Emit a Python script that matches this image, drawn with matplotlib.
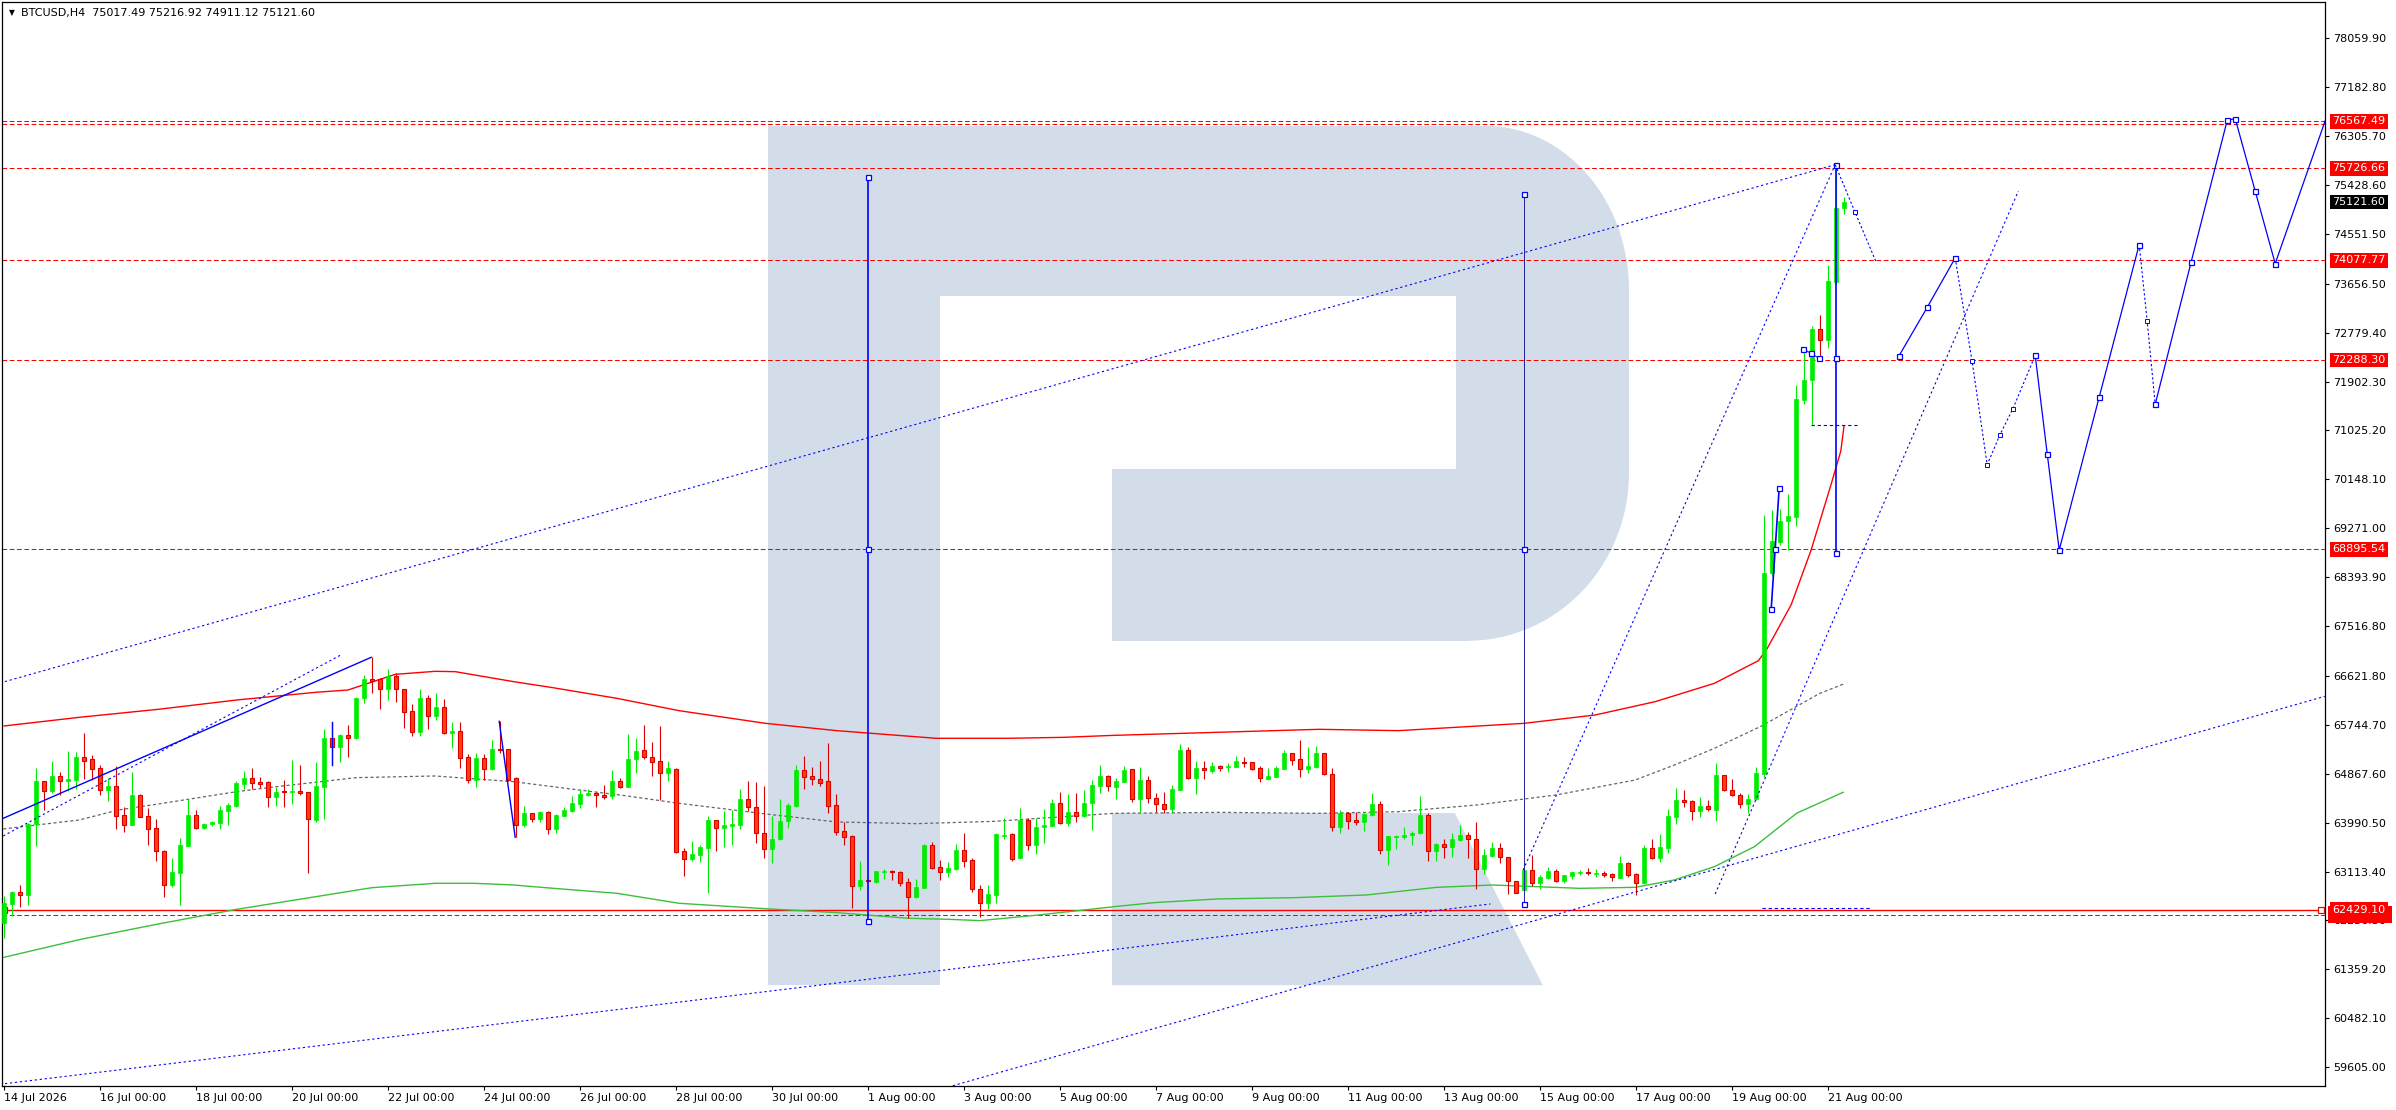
import numpy as np
import matplotlib
matplotlib.use("Agg")
import matplotlib.pyplot as plt
import matplotlib.transforms as mtransforms
from matplotlib.patches import Polygon, Rectangle

# ---- candles (BTCUSD H4, bar 0 = 14 Jul 00:00) ----
opens = [
    62198, 62533, 62742, 62694, 63967, 64732, 64565, 64828, 64744, 64762,
    65163, 65133, 64971, 64577, 64649, 64129, 63955, 64487, 64111, 63890,
    63483, 62879, 63094, 63579, 64123, 63901, 63961, 63991, 64206, 64296,
    64690, 64792, 64720, 64714, 64445, 64541, 64535, 64553, 64535, 64039,
    64637, 65510, 65354, 65563, 65516, 66221, 66562, 66562, 66394, 66621,
    66382, 65994, 65623, 66221, 65904, 66059, 65605, 65629, 65163, 64750,
    65151, 64960, 65306, 65306, 64792, 63949, 64158, 64063, 64182, 63872,
    64117, 64200, 64332, 64493, 64529, 64487, 64463, 64732, 64637, 65127,
    65288, 65163, 65091, 64888, 64954, 63477, 63339, 63417, 63543, 64033,
    63901, 63937, 63955, 64410, 64266, 63800, 63513, 63692, 64015, 64296,
    64936, 64822, 64768, 64732, 64302, 63836, 63746, 62861, 62963, 62933,
    63112, 63124, 63100, 62921, 62652, 62825, 63585, 63190, 63112, 63160,
    63501, 63322, 62795, 62545, 62700, 63758, 63782, 63363, 64039, 63585,
    63907, 63937, 64338, 63979, 64176, 64117, 64338, 64655, 64828, 64637,
    64726, 64948, 64422, 64756, 64428, 64326, 64242, 64577, 65294, 64798,
    64977, 64924, 65007, 64983, 64995, 65079, 65073, 64966, 64780, 64816,
    64960, 65235, 65127, 64960, 64989, 65235, 64858, 63907, 64158, 64039,
    64009, 64129, 64320, 63507, 63740, 63740, 63764, 63800, 64135, 63489,
    63609, 63549, 63680, 63764, 63698, 63154, 63393, 63531, 63375, 62939,
    62784, 63142, 62903, 63005, 63124, 62939, 63041, 63094, 63106, 63076,
    63094, 63071, 63005, 63262, 63071, 62915, 63537, 63357, 63537, 64099,
    64398, 64374, 64206, 64290, 64218, 64846, 64577, 64493, 64320, 64410,
    64870, 68471, 69022, 69396, 69475, 71580, 71934, 72839, 72652, 73695,
    75017]
highs = [
    62676, 62772, 62867, 63991, 64971, 64744, 65103, 64906, 65276, 65258,
    65599, 65199, 65019, 64786, 65007, 64278, 64900, 64505, 64260, 64063,
    63501, 63357, 63710, 64410, 64218, 63991, 64021, 64290, 64338, 64744,
    64912, 64971, 64816, 64732, 64637, 64750, 65115, 65019, 64547, 65079,
    65665, 65797, 65575, 65743, 66251, 66639, 66956, 66580, 66753, 66669,
    66394, 66119, 66382, 66281, 66323, 66203, 65803, 65803, 65223, 65235,
    65223, 65474, 65808, 65318, 64816, 64290, 64170, 64194, 64194, 64147,
    64278, 64469, 64589, 64589, 64547, 64667, 64936, 64792, 65581, 65504,
    65743, 65438, 65725, 65091, 64966, 63537, 63656, 63597, 64111, 64039,
    64200, 64218, 64595, 64738, 64720, 64655, 64111, 64416, 64338, 65025,
    65187, 64989, 65097, 65420, 64505, 64009, 63764, 63304, 62969, 63130,
    63154, 63142, 63130, 62999, 62981, 63609, 63644, 63322, 63286, 63609,
    63812, 63352, 62873, 62867, 63800, 64069, 63800, 64260, 64069, 64069,
    64236, 64421, 64541, 64505, 64529, 64577, 64756, 65025, 64840, 64786,
    65007, 64960, 64995, 64828, 64529, 64541, 64673, 65402, 65342, 65103,
    65103, 65079, 65025, 65055, 65187, 65163, 65079, 65007, 64977, 65007,
    65294, 65247, 65474, 65342, 65366, 65247, 64971, 64218, 64176, 64176,
    64158, 64529, 64374, 63758, 63776, 63907, 63848, 64475, 64158, 63620,
    63692, 63800, 63949, 63824, 64003, 63519, 63650, 63632, 63381, 62951,
    63154, 63411, 63047, 63190, 63154, 63059, 63130, 63142, 63178, 63154,
    63118, 63082, 63393, 63286, 63094, 63597, 63704, 63788, 64230, 64613,
    64577, 64398, 64445, 64398, 65055, 64846, 64768, 64517, 64505, 64995,
    69504, 69593, 69622, 69888, 71836, 72475, 72898, 73094, 73999, 75727,
    75217]
lows = [
    61917, 62317, 62485, 62515, 63579, 64218, 64517, 64487, 64565, 64601,
    64774, 64756, 64487, 64386, 63878, 63830, 63949, 64087, 63591, 63304,
    62664, 62831, 62515, 63579, 63878, 63884, 63931, 63884, 63949, 64278,
    64589, 64589, 64607, 64278, 64290, 64278, 64326, 64487, 63094, 64009,
    64057, 65031, 65079, 65175, 65486, 66131, 66311, 66036, 66191, 66155,
    65689, 65551, 65551, 65677, 65832, 65575, 65336, 64978, 64696, 64637,
    64756, 64936, 65247, 64744, 63728, 63907, 64009, 64003, 63788, 63812,
    64111, 64182, 64260, 64469, 64278, 64410, 64410, 64619, 64637, 64888,
    65127, 64828, 64398, 64744, 63453, 63035, 63298, 63286, 62736, 63483,
    63561, 63591, 63878, 64200, 63620, 63363, 63262, 63680, 63901, 64278,
    64601, 64661, 64649, 64170, 63776, 63597, 62467, 62784, 62927, 62915,
    62975, 62963, 62855, 62287, 62634, 62813, 63154, 62963, 63011, 63136,
    63202, 62748, 62293, 62449, 62545, 63698, 63310, 63363, 63501, 63435,
    63620, 63931, 63967, 63937, 63997, 64099, 63860, 64529, 64565, 64416,
    64720, 64368, 64158, 64350, 64176, 64158, 64158, 64577, 64780, 64511,
    64780, 64888, 64924, 64900, 64983, 64995, 64936, 64726, 64756, 64804,
    64948, 65025, 64816, 64888, 64978, 64840, 63836, 63800, 63884, 63949,
    63848, 64117, 63429, 63238, 63519, 63692, 63597, 63788, 63310, 63310,
    63363, 63381, 63668, 63352, 62796, 63065, 63381, 63274, 62706, 62724,
    62736, 62855, 62807, 62987, 62927, 62915, 62987, 63047, 63047, 63011,
    63023, 62951, 62993, 63023, 62700, 62891, 63334, 63292, 63441, 63967,
    64278, 64039, 64087, 64206, 64027, 64565, 64469, 64254, 64158, 64398,
    64802, 68412, 68963, 68884, 69317, 71491, 71127, 72367, 72505, 73656,
    74911]
closes = [
    62545, 62748, 62700, 63967, 64732, 64565, 64828, 64744, 64774, 65163,
    65103, 64960, 64577, 64649, 64117, 63955, 64487, 64099, 63884, 63489,
    62879, 63106, 63585, 64123, 63901, 63967, 64003, 64218, 64308, 64696,
    64792, 64708, 64690, 64445, 64541, 64535, 64553, 64529, 64051, 64649,
    65510, 65354, 65563, 65516, 66221, 66562, 66538, 66394, 66621, 66382,
    65982, 65623, 66221, 65904, 66059, 65605, 65635, 65157, 64750, 65151,
    64960, 65306, 65294, 64756, 63955, 64158, 64063, 64182, 63872, 64123,
    64212, 64338, 64505, 64517, 64481, 64457, 64732, 64637, 65133, 65276,
    65163, 65085, 64888, 64971, 63465, 63345, 63423, 63555, 64033, 63901,
    63943, 63961, 64410, 64266, 63800, 63513, 63692, 64021, 64302, 64936,
    64816, 64768, 64708, 64296, 63830, 63740, 62861, 62963, 62939, 63118,
    63124, 63100, 62915, 62652, 62831, 63585, 63178, 63112, 63178, 63501,
    63310, 62795, 62545, 62706, 63788, 63770, 63345, 64039, 63585, 63907,
    63949, 64338, 63979, 64176, 64117, 64338, 64667, 64828, 64649, 64738,
    64936, 64422, 64756, 64440, 64320, 64242, 64589, 65294, 64798, 64971,
    64936, 65007, 64971, 65007, 65097, 65067, 64960, 64786, 64828, 64971,
    65235, 65115, 64960, 65007, 65235, 64864, 63907, 64158, 64027, 64009,
    64147, 64332, 63507, 63746, 63752, 63764, 63812, 64135, 63489, 63609,
    63549, 63698, 63776, 63692, 63154, 63405, 63531, 63369, 62939, 62736,
    63142, 62903, 63011, 63118, 62939, 63047, 63106, 63106, 63082, 63088,
    63059, 63011, 63262, 63047, 62915, 63537, 63357, 63549, 64111, 64398,
    64362, 64206, 64290, 64230, 64846, 64571, 64481, 64320, 64422, 64876,
    68471, 69042, 69406, 69494, 71590, 71934, 72839, 72652, 73705, 75017,
    75122]

# ---- moving averages (bar index, price) ----
red_ma_x = [0, 9.4, 19.3, 29.1, 39, 43, 48.9, 53.9, 56.4, 63.7, 68.6, 76.6, 84.4,
            95.2, 104.1, 116.5, 125.4, 132.4, 138.8, 151.6, 164.4, 174.3, 190,
            198.9, 206.4, 213.8, 219.3, 220.4, 223.4, 225.9, 228.4, 229.6, 230]
red_ma_y = [65725, 65880, 66024, 66191, 66329, 66370, 66651, 66705, 66699, 66520,
            66412, 66221, 65999, 65772, 65641, 65504, 65504, 65521, 65557, 65611,
            65665, 65641, 65772, 65922, 66161, 66490, 66896, 67114, 67901, 68884,
            70065, 70655, 71098]
green_ma_x = [-0.5, 9.6, 19.3, 29.1, 39, 46, 53.9, 58.8, 63.7, 68.7, 76.6, 84.4, 94.3,
              104.1, 113, 118, 122, 128.9, 135.8, 138.8, 143.8, 151.6, 161.4, 170.3,
              179.1, 186.1, 197, 203.9, 208.8, 213.8, 218.8, 224.1, 229.9]
green_ma_y = [61560, 61899, 62174, 62437, 62664, 62825, 62903, 62903, 62873, 62813,
              62724, 62545, 62455, 62377, 62276, 62258, 62234, 62329, 62437, 62485,
              62557, 62622, 62646, 62694, 62831, 62873, 62813, 62831, 62963, 63202,
              63560, 64162, 64536]
grey_ma_x = [-0.1, 9.4, 14.3, 19.3, 29.1, 34.1, 44, 53.9, 63.7, 71.2, 77, 84.4, 95.2,
             104.1, 114, 123.9, 133.8, 138.8, 152, 164.4, 174.3, 184.1, 194, 203.9,
             208.8, 213.8, 219.7, 227, 229.9]
grey_ma_y = [63878, 64039, 64218, 64326, 64547, 64637, 64798, 64828, 64726, 64589,
             64487, 64338, 64147, 64003, 63973, 64015, 64111, 64158, 64176, 64158,
             64188, 64308, 64487, 64756, 65025, 65324, 65725, 66311, 66474]

# ---- horizontal levels ----
dash_levels = [76567.49, 76516.0, 75726.66, 74077.77, 72288.30, 68895.54, 62339.17]
solid_level = 62429.10
box_levels = [76567.49, 75726.66, 74077.77, 72288.30, 68895.54, 62429.10]
box_texts = ["76567.49", "75726.66", "74077.77", "72288.30", "68895.54", "62429.10"]
hidden_box_level = 62339.17   # label hidden under the 62429.10 one
last_price = 75121.60

# ---- trend lines ((x0, x1), (y0, y1)) ----
dotted_lines = [((-0.5, 228.9), (66496, 75791)),
                ((-0.5, 185.8), (59299, 62533)),
                ((118.6, 290.1), (59273, 66256)),
                ((189.9, 228.9), (63142, 75791)),
                ((213.9, 251.8), (62712, 75320)),
                ((-0.1, 42.1), (63752, 66998))]
solid_lines = [((-0.1, 45.9), (64069, 66956)),
               ((61.9, 63.9), (65808, 63728)),
               ((41, 41), (65797, 65031))]

# vertical measuring lines: bar, (top, mid, bottom)
vlines_x = [108, 190, 229]
vlines_y = [(75572, 68901, 62229), (75273, 68901, 62527), (75791, 72328, 68835)]

# small marks in the rally
rally_a_x = [220.9, 221.4, 221.9]
rally_a_y = [67823, 68904, 69997]
rally_b_x = [224.9, 225.9, 226.9]
rally_b_y = [72485, 72406, 72317]
rally_dash_x = [225.9, 231.6]
rally_dash_y = 71128
base_dash_x = [219.7, 233.3]
base_dash_y = 62461

# ---- forecast path ----
fc_segments = [
    ("dot", [228.9, 231.4, 234.0], [75791, 74934, 74050]),
    ("solid", [236.9, 240.4, 243.9], [72368, 73232, 74118]),
    ("dot", [243.9, 246.0, 247.9, 249.5, 251.1, 253.9], [74118, 72278, 70409, 70951, 71410, 72371]),
    ("solid", [253.9, 255.4, 256.9, 261.9, 266.9], [72371, 70610, 68881, 71623, 74358]),
    ("dot", [266.9, 267.9, 268.9], [74358, 72981, 71494]),
    ("solid", [268.9, 273.4, 277.9, 278.9, 281.4, 283.9, 290.2],
     [71494, 74050, 76586, 76618, 75318, 74018, 76600]),
]

price_ticks = [78059.90, 77182.80, 76305.70, 75428.60, 74551.50, 73656.50, 72779.40,
               71902.30, 71025.20, 70148.10, 69271.00, 68393.90, 67516.80, 66621.80,
               65744.70, 64867.60, 63990.50, 63113.40, 62236.30, 61359.20, 60482.10,
               59605.00]
date_labels = ["14 Jul 2026", "16 Jul 00:00", "18 Jul 00:00", "20 Jul 00:00", "22 Jul 00:00",
               "24 Jul 00:00", "26 Jul 00:00", "28 Jul 00:00", "30 Jul 00:00", "1 Aug 00:00",
               "3 Aug 00:00", "5 Aug 00:00", "7 Aug 00:00", "9 Aug 00:00", "11 Aug 00:00",
               "13 Aug 00:00", "15 Aug 00:00", "17 Aug 00:00", "19 Aug 00:00", "21 Aug 00:00"]
header = "BTCUSD,H4  75017.49 75216.92 74911.12 75121.60"

BLUE = "#0000ff"
RED = "#ff0000"
BULL = "#00ec00"
BEAR = "#ff3d0a"
BEAR_EDGE = "#d80000"

W, H = 2396, 1110
fig = plt.figure(figsize=(W / 100, H / 100), dpi=100)
ax = fig.add_axes([2 / W, 24 / H, 2323 / W, 1084 / H])
ax.set_xlim(-0.25, 290.125)
ax.set_ylim(59268, 78709)

# watermark logo, in figure pixels
pix = mtransforms.Affine2D().scale(1 / W, -1 / H).translate(0, 1) + fig.transFigure
wm = "#d3dde9"
t1 = np.linspace(np.pi / 2, 0, 30)
t2 = np.linspace(0, -np.pi / 2, 30)
bowl = ([(1456, 125.8)] + list(zip(1485 + 144 * np.cos(t1), 290 - 164.2 * np.sin(t1)))
        + list(zip(1467.7 + 161.3 * np.cos(t2), 473 - 167.8 * np.sin(t2))) + [(1456, 640.8)])
pieces = [
    [(767.6, 125.8), (939.5, 125.8), (939.5, 985.2), (767.6, 985.2)],
    [(939.5, 125.8), (1486, 125.8), (1486, 296.3), (939.5, 296.3)],
    bowl,
    [(1112, 468.5), (1468, 468.5), (1468, 640.8), (1112, 640.8)],
    [(1112, 813), (1454.8, 813), (1542.8, 985.2), (1112, 985.2)],
]
for pts in pieces:
    ax.add_patch(Polygon(pts, closed=True, fc=wm, ec="none", transform=pix, zorder=0.5))

# horizontal levels
for lv in dash_levels:
    ax.axhline(lv, color=RED, lw=0.75, ls=(0, (4.5, 2.5)), zorder=2)
ax.axhline(solid_level, color=RED, lw=1.0, zorder=2)
ax.plot([0, 289.6], [solid_level, solid_level], ls="none", marker="s", ms=4,
        mfc="white", mec=RED, mew=0.9, zorder=2)

# moving averages
ax.plot(red_ma_x, red_ma_y, color=RED, lw=1.0, zorder=2)
ax.plot(green_ma_x, green_ma_y, color="#3cbf3c", lw=1.0, zorder=2)
ax.plot(grey_ma_x, grey_ma_y, color="#666666", lw=0.9, ls=(0, (2.5, 2)), zorder=2)

# candles
o, h, l, c = (np.array(a, dtype=float) for a in (opens, highs, lows, closes))
idx = np.arange(len(o))
up = c >= o
ax.vlines(idx[up], l[up], h[up], color=BULL, lw=0.8, zorder=3)
ax.vlines(idx[~up], l[~up], h[~up], color=BEAR_EDGE, lw=0.8, zorder=3)
bot = np.minimum(o, c)
hgt = np.maximum(np.abs(c - o), 16)
ax.bar(idx[up], hgt[up], bottom=bot[up], width=0.62, color=BULL, ec=BULL, lw=0.5, zorder=4)
ax.bar(idx[~up], hgt[~up], bottom=bot[~up], width=0.62, color=BEAR, ec=BEAR_EDGE, lw=0.8, zorder=4)

# trend lines
for xs, ys in dotted_lines:
    ax.plot(xs, ys, color=BLUE, lw=0.8, ls=(0, (2, 2.5)), zorder=5)
for xs, ys in solid_lines:
    ax.plot(xs, ys, color=BLUE, lw=1.0, zorder=5)

mk = dict(marker="s", ms=3.6, mfc="white", mec=BLUE, mew=0.9)
for k, (bx, ys) in enumerate(zip(vlines_x, vlines_y)):
    col = "#22229a" if k == 1 else BLUE
    ax.plot([bx] * 3, ys, color=col, lw=0.7 if k == 1 else 1.2, zorder=5, **mk)

ax.plot(rally_a_x, rally_a_y, color=BLUE, lw=1.2, zorder=5, **mk)
ax.plot(rally_b_x, rally_b_y, color=BLUE, lw=0.7, zorder=5, **mk)
ax.plot(rally_dash_x, [rally_dash_y] * 2, color=BLUE, lw=0.8, ls=(0, (3, 2.5)), zorder=5)
ax.plot(base_dash_x, [base_dash_y] * 2, color=BLUE, lw=0.8, ls=(0, (3, 2.5)), zorder=5)

for style, xs, ys in fc_segments:
    if style == "dot":
        ax.plot(xs, ys, color=BLUE, lw=0.8, ls=(0, (2, 2)), zorder=5)
        ax.plot(xs[1:-1], ys[1:-1], ls="none", marker="s", ms=2.6, mfc="white",
                mec=BLUE, mew=0.7, zorder=6)
    else:
        ax.plot(xs, ys, color=BLUE, lw=0.9, zorder=5)
        pts_x = xs if xs[-1] < 289 else xs[:-1]
        ax.plot(pts_x, ys[:len(pts_x)], ls="none", zorder=6, **mk)

# axes styling
for sp in ax.spines.values():
    sp.set_color("black")
    sp.set_linewidth(0.9)
ax.yaxis.tick_right()
ax.set_yticks(price_ticks)
ax.set_yticklabels([f"{v:.2f}" for v in price_ticks])
ax.set_xticks(np.arange(len(date_labels)) * 12)
ax.set_xticklabels(date_labels)
for lab in ax.get_xticklabels():
    lab.set_horizontalalignment("left")
ax.tick_params(axis="y", direction="out", length=3, width=0.8, pad=3, labelsize=8)
ax.tick_params(axis="x", direction="out", length=3, width=0.8, pad=2, labelsize=8)

# price labels on the right
trans = mtransforms.blended_transform_factory(ax.transAxes, ax.transData)
ax.add_patch(Rectangle((1.0012, hidden_box_level - 150), 0.0275, 300, transform=trans,
                       fc=RED, ec="none", zorder=6, clip_on=False))
for val, txt in zip(box_levels, box_texts):
    ax.text(1.0032, val, txt, transform=trans, fontsize=8, color="white", va="center",
            ha="left", zorder=7, clip_on=False,
            bbox=dict(boxstyle="square,pad=0.22", fc=RED, ec="none"))
ax.text(1.0032, last_price, f"{last_price:.2f}", transform=trans, fontsize=8, color="white",
        va="center", ha="left", zorder=7, clip_on=False,
        bbox=dict(boxstyle="square,pad=0.22", fc="black", ec="none"))

fig.text(11.5 / W, 1 - 12.5 / H, "\u25bc", fontsize=5.5, ha="center", va="center")
fig.text(21 / W, 1 - 13 / H, header, fontsize=8, ha="left", va="center")

fig.savefig("out.png", dpi=100)
